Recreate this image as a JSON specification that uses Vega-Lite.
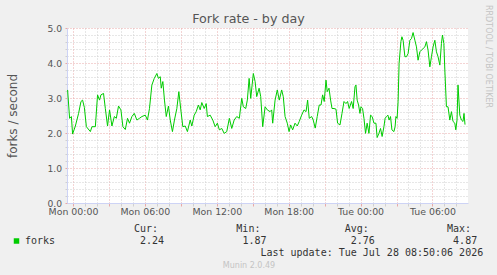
{
  "$schema": "https://vega.github.io/schema/vega-lite/v6.json",
  "width": 401,
  "height": 175,
  "autosize": "none",
  "padding": {"left": 67, "top": 28, "right": 29, "bottom": 72},
  "background": "#f0f0f0",
  "config": {"view": {"fill": "white", "stroke": null}, "font": "DejaVu Sans"},
  "title": {"text": "Fork rate - by day", "anchor": "middle", "frame": "group", "dx": -19, "fontSize": 12.7, "font": "DejaVu Sans", "fontWeight": "normal", "color": "#555555", "baseline": "alphabetic", "offset": -31},
  "data": {"values": [
    {"m": -27, "v": 3.23}, {"m": -17, "v": 2.42}, {"m": -8, "v": 2.47}, {"m": -2, "v": 1.97}, {"m": 12, "v": 2.2}, {"m": 28, "v": 2.56}, {"m": 40, "v": 2.9}, {"m": 48, "v": 2.94}, {"m": 57, "v": 2.73}, {"m": 67, "v": 2.18}, {"m": 87, "v": 2.04}, {"m": 95, "v": 2.18}, {"m": 112, "v": 2.18}, {"m": 123, "v": 3.09}, {"m": 133, "v": 2.94}, {"m": 140, "v": 3.09}, {"m": 153, "v": 3.13}, {"m": 162, "v": 2.7}, {"m": 173, "v": 2.2}, {"m": 183, "v": 2.66}, {"m": 195, "v": 2.2}, {"m": 207, "v": 2.47}, {"m": 217, "v": 2.42}, {"m": 228, "v": 2.77}, {"m": 240, "v": 2.66}, {"m": 250, "v": 2.18}, {"m": 262, "v": 2.1}, {"m": 273, "v": 2.42}, {"m": 283, "v": 2.28}, {"m": 295, "v": 2.47}, {"m": 307, "v": 2.56}, {"m": 320, "v": 2.37}, {"m": 333, "v": 2.42}, {"m": 345, "v": 2.47}, {"m": 362, "v": 2.51}, {"m": 373, "v": 2.37}, {"m": 383, "v": 2.7}, {"m": 395, "v": 3.37}, {"m": 407, "v": 3.56}, {"m": 420, "v": 3.7}, {"m": 428, "v": 3.56}, {"m": 437, "v": 3.61}, {"m": 442, "v": 3.28}, {"m": 450, "v": 3.47}, {"m": 458, "v": 2.94}, {"m": 467, "v": 2.47}, {"m": 478, "v": 2.77}, {"m": 487, "v": 2.37}, {"m": 498, "v": 2.04}, {"m": 508, "v": 2.37}, {"m": 520, "v": 2.7}, {"m": 530, "v": 3.18}, {"m": 540, "v": 2.66}, {"m": 550, "v": 2.18}, {"m": 562, "v": 2.2}, {"m": 573, "v": 2.04}, {"m": 587, "v": 2.37}, {"m": 595, "v": 2.2}, {"m": 607, "v": 2.51}, {"m": 617, "v": 2.61}, {"m": 628, "v": 2.8}, {"m": 637, "v": 2.66}, {"m": 645, "v": 2.87}, {"m": 657, "v": 2.7}, {"m": 667, "v": 2.84}, {"m": 673, "v": 2.47}, {"m": 687, "v": 2.51}, {"m": 700, "v": 2.37}, {"m": 712, "v": 2.18}, {"m": 723, "v": 2.28}, {"m": 733, "v": 2.09}, {"m": 745, "v": 2.13}, {"m": 757, "v": 1.99}, {"m": 770, "v": 2.04}, {"m": 783, "v": 2.42}, {"m": 795, "v": 2.13}, {"m": 807, "v": 2.37}, {"m": 820, "v": 2.47}, {"m": 833, "v": 2.42}, {"m": 845, "v": 2.99}, {"m": 853, "v": 2.75}, {"m": 865, "v": 2.7}, {"m": 873, "v": 2.94}, {"m": 882, "v": 3.56}, {"m": 890, "v": 2.99}, {"m": 903, "v": 3.7}, {"m": 912, "v": 3.47}, {"m": 920, "v": 3.04}, {"m": 932, "v": 3.28}, {"m": 940, "v": 3.04}, {"m": 950, "v": 2.18}, {"m": 962, "v": 2.75}, {"m": 973, "v": 2.66}, {"m": 987, "v": 2.61}, {"m": 995, "v": 2.66}, {"m": 1000, "v": 2.28}, {"m": 1012, "v": 2.94}, {"m": 1023, "v": 3.23}, {"m": 1033, "v": 2.94}, {"m": 1045, "v": 3.23}, {"m": 1053, "v": 3.04}, {"m": 1062, "v": 2.47}, {"m": 1073, "v": 2.28}, {"m": 1082, "v": 2.04}, {"m": 1090, "v": 2.23}, {"m": 1100, "v": 2.09}, {"m": 1112, "v": 2.28}, {"m": 1123, "v": 2.2}, {"m": 1133, "v": 2.33}, {"m": 1145, "v": 2.51}, {"m": 1157, "v": 2.66}, {"m": 1167, "v": 2.61}, {"m": 1175, "v": 2.94}, {"m": 1183, "v": 2.42}, {"m": 1195, "v": 2.47}, {"m": 1203, "v": 2.37}, {"m": 1213, "v": 2.14}, {"m": 1223, "v": 2.47}, {"m": 1233, "v": 2.8}, {"m": 1242, "v": 2.8}, {"m": 1250, "v": 3.09}, {"m": 1258, "v": 2.9}, {"m": 1267, "v": 3.51}, {"m": 1273, "v": 3.18}, {"m": 1282, "v": 3.28}, {"m": 1290, "v": 2.94}, {"m": 1297, "v": 2.7}, {"m": 1307, "v": 2.7}, {"m": 1317, "v": 2.68}, {"m": 1325, "v": 2.28}, {"m": 1337, "v": 2.23}, {"m": 1347, "v": 2.56}, {"m": 1357, "v": 2.9}, {"m": 1367, "v": 2.84}, {"m": 1375, "v": 2.9}, {"m": 1383, "v": 2.7}, {"m": 1395, "v": 2.9}, {"m": 1403, "v": 2.7}, {"m": 1412, "v": 3.32}, {"m": 1417, "v": 3.37}, {"m": 1423, "v": 2.94}, {"m": 1430, "v": 2.8}, {"m": 1437, "v": 2.56}, {"m": 1442, "v": 2.75}, {"m": 1450, "v": 2.7}, {"m": 1457, "v": 2.42}, {"m": 1465, "v": 1.99}, {"m": 1473, "v": 2.28}, {"m": 1482, "v": 1.99}, {"m": 1490, "v": 2.51}, {"m": 1498, "v": 2.47}, {"m": 1507, "v": 2.28}, {"m": 1517, "v": 2.28}, {"m": 1523, "v": 1.87}, {"m": 1532, "v": 1.99}, {"m": 1540, "v": 2.13}, {"m": 1548, "v": 1.9}, {"m": 1557, "v": 2.18}, {"m": 1563, "v": 2.42}, {"m": 1570, "v": 2.47}, {"m": 1577, "v": 2.51}, {"m": 1583, "v": 2.37}, {"m": 1590, "v": 2.47}, {"m": 1597, "v": 2.09}, {"m": 1607, "v": 2.04}, {"m": 1613, "v": 2.18}, {"m": 1617, "v": 2.47}, {"m": 1623, "v": 2.42}, {"m": 1628, "v": 2.9}, {"m": 1633, "v": 3.99}, {"m": 1642, "v": 4.61}, {"m": 1647, "v": 4.75}, {"m": 1653, "v": 4.65}, {"m": 1662, "v": 4.18}, {"m": 1670, "v": 4.18}, {"m": 1678, "v": 4.27}, {"m": 1687, "v": 4.65}, {"m": 1695, "v": 4.7}, {"m": 1703, "v": 4.87}, {"m": 1712, "v": 4.65}, {"m": 1720, "v": 4.46}, {"m": 1728, "v": 4.08}, {"m": 1737, "v": 4.32}, {"m": 1745, "v": 4.37}, {"m": 1753, "v": 4.41}, {"m": 1762, "v": 4.46}, {"m": 1770, "v": 4.61}, {"m": 1778, "v": 4.37}, {"m": 1787, "v": 3.89}, {"m": 1795, "v": 4.18}, {"m": 1803, "v": 4.46}, {"m": 1812, "v": 4.65}, {"m": 1820, "v": 4.32}, {"m": 1828, "v": 4.18}, {"m": 1837, "v": 3.94}, {"m": 1845, "v": 4.56}, {"m": 1850, "v": 4.8}, {"m": 1857, "v": 4.56}, {"m": 1862, "v": 3.8}, {"m": 1870, "v": 2.75}, {"m": 1878, "v": 2.75}, {"m": 1887, "v": 2.37}, {"m": 1895, "v": 2.61}, {"m": 1903, "v": 2.33}, {"m": 1912, "v": 2.28}, {"m": 1917, "v": 2.09}, {"m": 1923, "v": 2.37}, {"m": 1928, "v": 3.37}, {"m": 1937, "v": 2.51}, {"m": 1945, "v": 2.37}, {"m": 1953, "v": 2.33}, {"m": 1958, "v": 2.56}, {"m": 1963, "v": 2.24}
  ]},
  "layer": [
    {
      "mark": {"type": "line", "strokeWidth": 1, "clip": true},
      "encoding": {
        "x": {"field": "m", "type": "quantitative",
          "scale": {"domain": [-30, 1978], "nice": false, "zero": false},
          "axis": {
            "values": [0, 60, 120, 180, 240, 300, 360, 420, 480, 540, 600, 660, 720, 780, 840, 900, 960, 1020, 1080, 1140, 1200, 1260, 1320, 1380, 1440, 1500, 1560, 1620, 1680, 1740, 1800, 1860, 1920],
            "labelExpr": "datum.value % 360 === 0 ? (datum.value < 1440 ? 'Mon ' : 'Tue ') + (floor((datum.value % 1440) / 60) < 10 ? '0' : '') + floor((datum.value % 1440) / 60) + ':00' : ''",
            "labelFont": "DejaVu Sans", "labelFontSize": 9.4, "labelColor": "#555555", "labelPadding": 1, "labelOverlap": false, "labelFlush": false,
            "tickSize": 3,
            "tickColor": {"condition": {"test": "datum.value % 180 === 0", "value": "#e8a8a8"}, "value": "#d0d0d0"},
            "grid": true, "gridDash": [1, 2], "gridWidth": 1,
            "gridColor": {"condition": {"test": "datum.value % 180 === 0", "value": "#e8a8a8"}, "value": "#cfcfcf"},
            "domainColor": "#cdd3f5", "domainWidth": 1,
            "title": ["Cur:\u00a0\u00a0\u00a0\u00a0\u00a0\u00a0\u00a0\u00a0\u00a0\u00a0\u00a0\u00a0\u00a0Min:\u00a0\u00a0\u00a0\u00a0\u00a0\u00a0\u00a0\u00a0\u00a0\u00a0\u00a0\u00a0\u00a0\u00a0Avg:\u00a0\u00a0\u00a0\u00a0\u00a0\u00a0\u00a0\u00a0\u00a0\u00a0\u00a0\u00a0\u00a0Max:\u00a0\u00a0\u200b", "2.24\u00a0\u00a0\u00a0\u00a0\u00a0\u00a0\u00a0\u00a0\u00a0\u00a0\u00a0\u00a0\u00a01.87\u00a0\u00a0\u00a0\u00a0\u00a0\u00a0\u00a0\u00a0\u00a0\u00a0\u00a0\u00a0\u00a0\u00a02.76\u00a0\u00a0\u00a0\u00a0\u00a0\u00a0\u00a0\u00a0\u00a0\u00a0\u00a0\u00a0\u00a04.87\u00a0\u200b", "Last update: Tue Jul 28 08:50:06 2026"],
            "titleFont": "DejaVu Sans Mono", "titleFontSize": 10, "titleFontWeight": "normal", "titleColor": "#333333",
            "titleAlign": "right", "titleX": 415.7, "titleY": 28, "titleBaseline": "alphabetic", "titleLineHeight": 12.2
          }
        },
        "y": {"field": "v", "type": "quantitative",
          "scale": {"domain": [0, 5], "nice": false, "zero": true},
          "axis": {
            "values": [0, 0.2, 0.4, 0.6, 0.8, 1, 1.2, 1.4, 1.6, 1.8, 2, 2.2, 2.4, 2.6, 2.8, 3, 3.2, 3.4, 3.6, 3.8, 4, 4.2, 4.4, 4.6, 4.8, 5],
            "labelExpr": "abs(datum.value - round(datum.value)) < 0.01 ? format(datum.value, '.1f') : ''",
            "labelFont": "DejaVu Sans", "labelFontSize": 9.2, "labelColor": "#555555", "labelPadding": 3.5, "labelOverlap": false, "labelFlush": false,
            "tickSize": 2,
            "tickColor": {"condition": {"test": "abs(datum.value - round(datum.value)) < 0.01", "value": "#e8a8a8"}, "value": "#d0d0d0"},
            "grid": true, "gridDash": [1, 2], "gridWidth": 1,
            "gridColor": {"condition": {"test": "abs(datum.value - round(datum.value)) < 0.01", "value": "#e8a8a8"}, "value": "#cfcfcf"},
            "domainColor": "#cdd3f5", "domainWidth": 1,
            "title": "forks / second", "titleFont": "DejaVu Sans", "titleFontSize": 12, "titleFontWeight": "normal", "titleColor": "#555555",
            "titleX": -55, "titleY": 87.5, "titleAngle": -90, "titleAlign": "center", "titleBaseline": "middle"
          }
        },
        "color": {"datum": "forks", "type": "nominal",
          "scale": {"domain": ["forks"], "range": ["#00cc00"]},
          "legend": {
            "orient": "none", "legendX": -55.5, "legendY": 208, "title": null, "padding": 0,
            "symbolType": "square", "symbolSize": 30,
            "labelFont": "DejaVu Sans Mono", "labelFontSize": 10, "labelColor": "#333333", "labelOffset": 3.5,
            "encode": {"symbols": {"update": {"fill": {"value": "#00cc00"}, "stroke": {"value": "#00cc00"}, "strokeWidth": {"value": 0}}}}
          }
        }
      }
    },
    {
      "mark": {"type": "line", "opacity": 0},
      "encoding": {
        "x": {"field": "m", "type": "quantitative",
          "axis": {"orient": "top", "domain": false, "ticks": false, "labels": false, "grid": false,
            "title": "Munin 2.0.49", "titleFont": "DejaVu Sans", "titleFontSize": 8, "titleFontWeight": "normal", "titleColor": "#c4c4c4",
            "titleX": 181.5, "titleY": 239, "titleAlign": "center", "titleBaseline": "alphabetic"}
        },
        "y": {"field": "v", "type": "quantitative",
          "axis": {"orient": "right", "domain": false, "ticks": false, "labels": false, "grid": false,
            "title": "RRDTOOL / TOBI OETIKER", "titleFont": "DejaVu Sans", "titleFontSize": 8, "titleFontWeight": "normal", "titleColor": "#c4c4c4",
            "titleX": 19.5, "titleY": 28, "titleAngle": 90, "titleAlign": "center", "titleBaseline": "middle"}
        }
      }
    }
  ],
  "resolve": {"axis": {"x": "independent", "y": "independent"}}
}
